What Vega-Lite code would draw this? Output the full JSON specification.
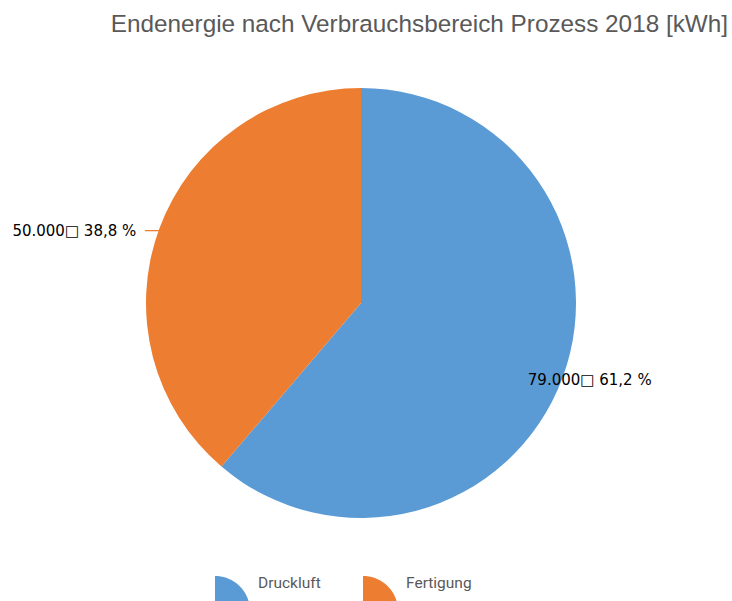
{
  "$schema": "https://vega.github.io/schema/vega-lite/v6.json",
  "width": 702,
  "height": 486,
  "autosize": "none",
  "padding": {"left": 10, "top": 60, "right": 20, "bottom": 55},
  "background": "white",
  "config": {"view": {"stroke": null}},
  "title": {
    "text": "Endenergie nach Verbrauchsbereich Prozess 2018 [kWh]",
    "anchor": "end",
    "frame": "group",
    "orient": "top",
    "baseline": "alphabetic",
    "offset": 4,
    "dx": 16,
    "font": "Liberation Sans",
    "fontSize": 24.3,
    "fontWeight": "normal",
    "color": "#595959"
  },
  "data": {
    "values": [
      {"Bereich": "Druckluft", "kWh": 79000, "Beschriftung": "79.000□ 61,2 %"},
      {"Bereich": "Fertigung", "kWh": 50000, "Beschriftung": "50.000□ 38,8 %"}
    ]
  },
  "encoding": {
    "theta": {"field": "kWh", "type": "quantitative", "stack": true},
    "order": {"field": "Bereich", "sort": "ascending"}
  },
  "layer": [
    {
      "mark": {"type": "arc", "outerRadius": 215},
      "encoding": {
        "color": {
          "field": "Bereich",
          "type": "nominal",
          "scale": {"domain": ["Druckluft", "Fertigung"], "range": ["#5B9BD5", "#ED7D31"]},
          "legend": {
            "orient": "none",
            "legendX": 170,
            "legendY": 488,
            "direction": "horizontal",
            "title": null,
            "symbolType": "M0,0.8 L0,-0.2 A1,1,0,0,1,1,0.8 Z",
            "symbolSize": 4900,
            "symbolStrokeWidth": 0,
            "symbolOpacity": 1,
            "labelFont": "Roboto",
            "labelFontSize": 15.5,
            "labelColor": "#595959",
            "labelOffset": 8,
            "columnPadding": 7,
            "padding": 0
          }
        }
      }
    },
    {
      "mark": {
        "type": "text",
        "radius": 215,
        "font": "DejaVu Sans",
        "fontSize": 15,
        "color": "#000000",
        "baseline": "middle",
        "align": {"expr": "datum.Bereich == 'Druckluft' ? 'center' : 'right'"},
        "dx": {"expr": "datum.Bereich == 'Druckluft' ? 27 : -23"},
        "dy": {"expr": "datum.Bereich == 'Druckluft' ? 3 : 2"}
      },
      "encoding": {"text": {"field": "Beschriftung", "type": "nominal"}}
    },
    {
      "mark": {
        "type": "text",
        "radius": 215,
        "font": "DejaVu Sans",
        "fontSize": 16,
        "color": "#ED7D31",
        "align": "right",
        "baseline": "middle",
        "dx": 1,
        "dy": 1
      },
      "encoding": {
        "text": {"condition": {"test": "datum.Bereich == 'Fertigung'", "value": "—"}, "value": ""}
      }
    }
  ]
}
